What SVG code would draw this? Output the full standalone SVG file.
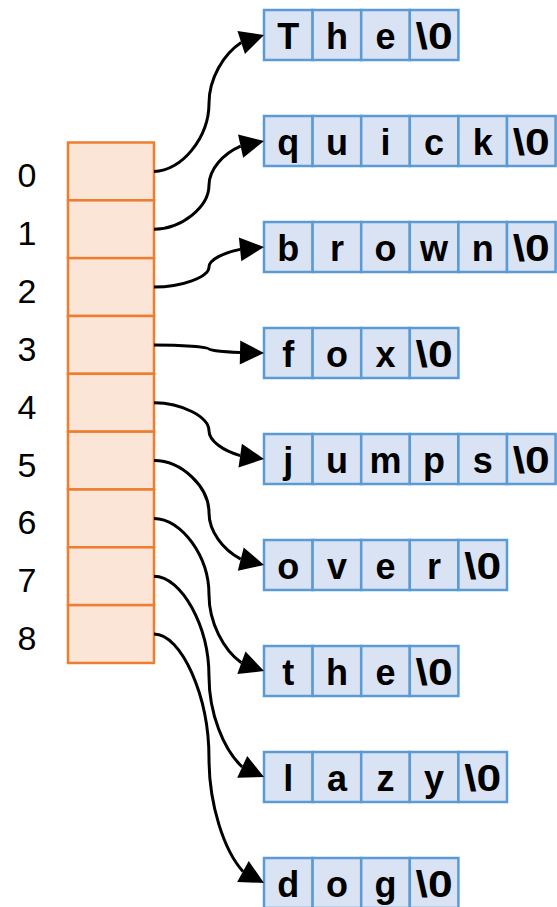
<svg xmlns="http://www.w3.org/2000/svg" width="557" height="907" viewBox="0 0 557 907">
  <style>
    .slot { fill: #FBE5D6; stroke: #ED7D31; stroke-width: 2.5; }
    .idx { font-family: "Liberation Sans", Arial, sans-serif; font-size: 34px; fill: #000; text-anchor: middle; }
    .cell { fill: #DAE3F3; stroke: #5B9BD5; stroke-width: 2.5; }
    .ch { font-family: "Liberation Sans", Arial, sans-serif; font-size: 36px; font-weight: bold; fill: #000; text-anchor: middle; }
    .wire { fill: none; stroke: #000; stroke-width: 3; stroke-linecap: butt; }
    .head { fill: #000; stroke: none; }
  </style>

  <!-- pointer array with its indices -->
  <g id="array">
    <rect class="slot" x="68" y="142.5" width="86" height="57.83"/>
    <rect class="slot" x="68" y="200.33" width="86" height="57.83"/>
    <rect class="slot" x="68" y="258.16" width="86" height="57.83"/>
    <rect class="slot" x="68" y="315.99" width="86" height="57.83"/>
    <rect class="slot" x="68" y="373.82" width="86" height="57.83"/>
    <rect class="slot" x="68" y="431.65" width="86" height="57.83"/>
    <rect class="slot" x="68" y="489.48" width="86" height="57.83"/>
    <rect class="slot" x="68" y="547.31" width="86" height="57.83"/>
    <rect class="slot" x="68" y="605.14" width="86" height="57.83"/>
    <text class="idx" x="27" y="187.4">0</text>
    <text class="idx" x="27" y="245.2">1</text>
    <text class="idx" x="27" y="303.1">2</text>
    <text class="idx" x="27" y="360.9">3</text>
    <text class="idx" x="27" y="418.7">4</text>
    <text class="idx" x="27" y="476.6">5</text>
    <text class="idx" x="27" y="534.4">6</text>
    <text class="idx" x="27" y="592.2">7</text>
    <text class="idx" x="27" y="650.1">8</text>
  </g>

  <!-- character strings -->
  <g id="str0">
    <rect class="cell" x="264" y="10" width="48.6" height="50"/>
    <rect class="cell" x="312.6" y="10" width="48.6" height="50"/>
    <rect class="cell" x="361.2" y="10" width="48.6" height="50"/>
    <rect class="cell" x="409.8" y="10" width="48.6" height="50"/>
    <text class="ch" x="288.3" y="49">T</text>
    <text class="ch" x="336.9" y="49">h</text>
    <text class="ch" x="385.5" y="49">e</text>
    <text class="ch" x="434.1" y="49" textLength="37" lengthAdjust="spacingAndGlyphs">\0</text>
  </g>
  <g id="str1">
    <rect class="cell" x="264" y="116" width="48.6" height="50"/>
    <rect class="cell" x="312.6" y="116" width="48.6" height="50"/>
    <rect class="cell" x="361.2" y="116" width="48.6" height="50"/>
    <rect class="cell" x="409.8" y="116" width="48.6" height="50"/>
    <rect class="cell" x="458.4" y="116" width="48.6" height="50"/>
    <rect class="cell" x="507" y="116" width="48.6" height="50"/>
    <text class="ch" x="288.3" y="155">q</text>
    <text class="ch" x="336.9" y="155">u</text>
    <text class="ch" x="385.5" y="155">i</text>
    <text class="ch" x="434.1" y="155">c</text>
    <text class="ch" x="482.7" y="155">k</text>
    <text class="ch" x="531.3" y="155" textLength="37" lengthAdjust="spacingAndGlyphs">\0</text>
  </g>
  <g id="str2">
    <rect class="cell" x="264" y="222" width="48.6" height="50"/>
    <rect class="cell" x="312.6" y="222" width="48.6" height="50"/>
    <rect class="cell" x="361.2" y="222" width="48.6" height="50"/>
    <rect class="cell" x="409.8" y="222" width="48.6" height="50"/>
    <rect class="cell" x="458.4" y="222" width="48.6" height="50"/>
    <rect class="cell" x="507" y="222" width="48.6" height="50"/>
    <text class="ch" x="288.3" y="261">b</text>
    <text class="ch" x="336.9" y="261">r</text>
    <text class="ch" x="385.5" y="261">o</text>
    <text class="ch" x="434.1" y="261">w</text>
    <text class="ch" x="482.7" y="261">n</text>
    <text class="ch" x="531.3" y="261" textLength="37" lengthAdjust="spacingAndGlyphs">\0</text>
  </g>
  <g id="str3">
    <rect class="cell" x="264" y="328" width="48.6" height="50"/>
    <rect class="cell" x="312.6" y="328" width="48.6" height="50"/>
    <rect class="cell" x="361.2" y="328" width="48.6" height="50"/>
    <rect class="cell" x="409.8" y="328" width="48.6" height="50"/>
    <text class="ch" x="288.3" y="367">f</text>
    <text class="ch" x="336.9" y="367">o</text>
    <text class="ch" x="385.5" y="367">x</text>
    <text class="ch" x="434.1" y="367" textLength="37" lengthAdjust="spacingAndGlyphs">\0</text>
  </g>
  <g id="str4">
    <rect class="cell" x="264" y="434" width="48.6" height="50"/>
    <rect class="cell" x="312.6" y="434" width="48.6" height="50"/>
    <rect class="cell" x="361.2" y="434" width="48.6" height="50"/>
    <rect class="cell" x="409.8" y="434" width="48.6" height="50"/>
    <rect class="cell" x="458.4" y="434" width="48.6" height="50"/>
    <rect class="cell" x="507" y="434" width="48.6" height="50"/>
    <text class="ch" x="288.3" y="473">j</text>
    <text class="ch" x="336.9" y="473">u</text>
    <text class="ch" x="385.5" y="473">m</text>
    <text class="ch" x="434.1" y="473">p</text>
    <text class="ch" x="482.7" y="473">s</text>
    <text class="ch" x="531.3" y="473" textLength="37" lengthAdjust="spacingAndGlyphs">\0</text>
  </g>
  <g id="str5">
    <rect class="cell" x="264" y="540" width="48.6" height="50"/>
    <rect class="cell" x="312.6" y="540" width="48.6" height="50"/>
    <rect class="cell" x="361.2" y="540" width="48.6" height="50"/>
    <rect class="cell" x="409.8" y="540" width="48.6" height="50"/>
    <rect class="cell" x="458.4" y="540" width="48.6" height="50"/>
    <text class="ch" x="288.3" y="579">o</text>
    <text class="ch" x="336.9" y="579">v</text>
    <text class="ch" x="385.5" y="579">e</text>
    <text class="ch" x="434.1" y="579">r</text>
    <text class="ch" x="482.7" y="579" textLength="37" lengthAdjust="spacingAndGlyphs">\0</text>
  </g>
  <g id="str6">
    <rect class="cell" x="264" y="646" width="48.6" height="50"/>
    <rect class="cell" x="312.6" y="646" width="48.6" height="50"/>
    <rect class="cell" x="361.2" y="646" width="48.6" height="50"/>
    <rect class="cell" x="409.8" y="646" width="48.6" height="50"/>
    <text class="ch" x="288.3" y="685">t</text>
    <text class="ch" x="336.9" y="685">h</text>
    <text class="ch" x="385.5" y="685">e</text>
    <text class="ch" x="434.1" y="685" textLength="37" lengthAdjust="spacingAndGlyphs">\0</text>
  </g>
  <g id="str7">
    <rect class="cell" x="264" y="752" width="48.6" height="50"/>
    <rect class="cell" x="312.6" y="752" width="48.6" height="50"/>
    <rect class="cell" x="361.2" y="752" width="48.6" height="50"/>
    <rect class="cell" x="409.8" y="752" width="48.6" height="50"/>
    <rect class="cell" x="458.4" y="752" width="48.6" height="50"/>
    <text class="ch" x="288.3" y="791">l</text>
    <text class="ch" x="336.9" y="791">a</text>
    <text class="ch" x="385.5" y="791">z</text>
    <text class="ch" x="434.1" y="791">y</text>
    <text class="ch" x="482.7" y="791" textLength="37" lengthAdjust="spacingAndGlyphs">\0</text>
  </g>
  <g id="str8">
    <rect class="cell" x="264" y="858" width="48.6" height="50"/>
    <rect class="cell" x="312.6" y="858" width="48.6" height="50"/>
    <rect class="cell" x="361.2" y="858" width="48.6" height="50"/>
    <rect class="cell" x="409.8" y="858" width="48.6" height="50"/>
    <text class="ch" x="288.3" y="897">d</text>
    <text class="ch" x="336.9" y="897">o</text>
    <text class="ch" x="385.5" y="897">g</text>
    <text class="ch" x="434.1" y="897" textLength="37" lengthAdjust="spacingAndGlyphs">\0</text>
  </g>

  <!-- curved pointers from each slot to its string -->
  <g id="connectors">
    <path class="wire" d="M154,171.4 C181.5,171.4 209,137.3 209,103.2 C209,78.8 223.1,54.4 241.2,42.5"/>
    <polygon class="head" points="264,35 244.95,53.9 237.45,31.1"/>
    <path class="wire" d="M154,229.2 C181.5,229.2 209,207.15 209,185.1 C209,169.5 222.8,153.9 240.6,146.1"/>
    <polygon class="head" points="264,141 243.16,157.8 238.04,134.4"/>
    <path class="wire" d="M154,287.1 C181.5,287.1 209,277.1 209,267.05 C209,260 222.6,253 240.1,249.4"/>
    <polygon class="head" points="264,247 241.3,261.3 238.9,237.5"/>
    <path class="wire" d="M154,344.9 C181.5,344.9 209,346.9 209,348.95 C209,350.37 222.5,351.8 240,352.5"/>
    <polygon class="head" points="264,353 239.75,364.5 240.25,340.5"/>
    <path class="wire" d="M154,402.7 C181.5,402.7 209,416.8 209,430.85 C209,440.74 222.6,450.6 240.2,455.6"/>
    <polygon class="head" points="264,459 238.5,467.5 241.9,443.7"/>
    <path class="wire" d="M154,460.6 C181.5,460.6 209,486.7 209,512.8 C209,531.3 222.9,549.9 240.75,559.05"/>
    <polygon class="head" points="264,565 237.8,570.7 243.7,547.4"/>
    <path class="wire" d="M154,518.4 C181.5,518.4 209,556.55 209,594.7 C209,622.13 223.2,649.6 241.4,662.8"/>
    <polygon class="head" points="264,671 237.3,674.1 245.5,651.5"/>
    <path class="wire" d="M154,576.2 C181.5,576.2 209,626.4 209,676.6 C209,713.2 223.6,749.8 242.2,766.9"/>
    <polygon class="head" points="264,777 237.2,777.8 247.2,756"/>
    <path class="wire" d="M154,634.1 C181.5,634.1 209,696.3 209,758.55 C209,804.5 224,850.5 242.95,871.4"/>
    <polygon class="head" points="264,883 237.15,881.9 248.75,860.9"/>
  </g>
</svg>
